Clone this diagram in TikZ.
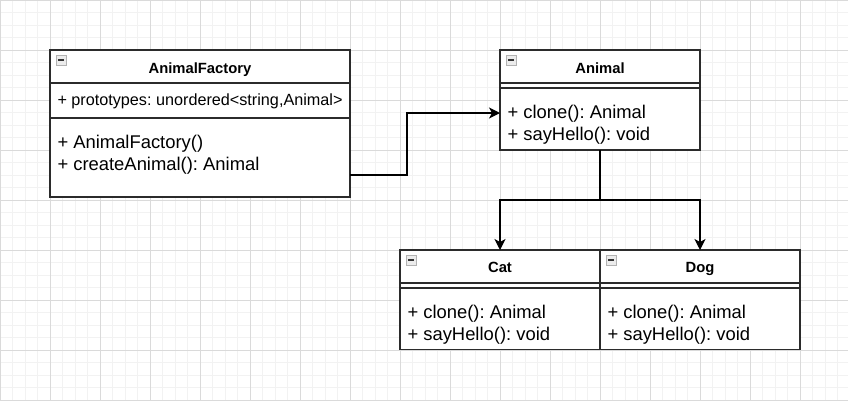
\documentclass[tikz,border=0pt]{standalone}
\usepackage{fontspec}
\setmainfont{Liberation Sans}
\usetikzlibrary{arrows.meta,positioning}
\definecolor{gridminor}{HTML}{F2F2F2}
\definecolor{gridmajor}{HTML}{DADADA}
\definecolor{boxline}{HTML}{2B2B2B}
\frenchspacing

\begin{document}
\begin{tikzpicture}[x=1pt,y=-1pt,>={Stealth[length=11pt,width=11pt,inset=3pt]},
		inner sep=0pt, outer sep=0pt]
		\tikzstyle{minorline}=[draw=gridminor,line width=0.8pt]
		\tikzstyle{majorline}=[draw=gridmajor,line width=0.8pt]
		\tikzstyle{classpart}=[draw=boxline,line width=1.3pt,fill=white,minimum width=200pt]
		\tikzstyle{classhead}=[classpart,minimum height=33pt]
		\tikzstyle{classname}=[font=\fontsize{14.8}{18}\selectfont\bfseries,anchor=base]
		\tikzstyle{field}=[font=\fontsize{16.2}{19}\selectfont,anchor=base west]
		\tikzstyle{member}=[font=\fontsize{18.4}{22}\selectfont,anchor=base west]
		\tikzstyle{toggle}=[draw=gray!60,fill=gray!15,line width=0.8pt,minimum size=10pt,anchor=north west,
			path picture={\draw[black!80,line width=1.5pt] ([xshift=2pt]path picture bounding box.west)
				-- ([xshift=-2pt]path picture bounding box.east);}]
		\tikzstyle{link}=[->,draw=black,line width=1.3pt]

		\useasboundingbox (0,0) rectangle (848,400);
		\fill[white] (0,0) rectangle (848,400);
		\foreach \i in {0,...,67} \draw[minorline] (12.5*\i,0) -- (12.5*\i,400);
		\foreach \j in {0,...,32} \draw[minorline] (0,12.5*\j) -- (848,12.5*\j);
		\foreach \i in {0,...,16} \draw[majorline] (50*\i,0) -- (50*\i,400);
		\foreach \j in {0,...,8} \draw[majorline] (0,50*\j) -- (848,50*\j);

		\node[classhead,minimum width=300pt,anchor=north west] (fh) at (50,50) {};
		\node[classpart,minimum width=300pt,minimum height=35pt,below=0pt of fh] (fa) {};
		\node[classpart,minimum width=300pt,minimum height=79pt,below=0pt of fa] (fm) {};
		\node[toggle] (fx) at ([xshift=6pt,yshift=-5pt]fh.north west) {};
		\node[classname] (ft) at ([yshift=-23pt]fh.north) {AnimalFactory};
		\node[field] (fp) at ([xshift=7.5pt,yshift=-22.5pt]fa.north west) {+ prototypes: unordered<string,Animal>};
		\node[member] (fm1) at ([xshift=7.5pt,yshift=-30pt]fm.north west) {+ AnimalFactory()};
		\node[member] (fm2) at ([xshift=7.5pt,yshift=-52.7pt]fm.north west) {+ createAnimal(): Animal};

		\node[classhead,anchor=north west] (ah) at (500,50) {};
		\node[classpart,minimum height=5pt,below=0pt of ah] (aa) {};
		\node[classpart,minimum height=62pt,below=0pt of aa] (am) {};
		\node[toggle] (ax) at ([xshift=6pt,yshift=-5pt]ah.north west) {};
		\node[classname] (at) at ([yshift=-23pt]ah.north) {Animal};
		\node[member] (am1) at ([xshift=7.5pt,yshift=-30pt]am.north west) {+ clone(): Animal};
		\node[member] (am2) at ([xshift=7.5pt,yshift=-52.7pt]am.north west) {+ sayHello(): void};

		\node[classhead,anchor=north west] (ch) at (400,250) {};
		\node[classpart,minimum height=5pt,below=0pt of ch] (ca) {};
		\node[classpart,minimum height=61.5pt,below=0pt of ca] (cm) {};
		\node[toggle] (cx) at ([xshift=6pt,yshift=-5pt]ch.north west) {};
		\node[classname] (ct) at ([yshift=-22.7pt]ch.north) {Cat};
		\node[member] (cm1) at ([xshift=7.5pt,yshift=-30pt]cm.north west) {+ clone(): Animal};
		\node[member] (cm2) at ([xshift=7.5pt,yshift=-52.7pt]cm.north west) {+ sayHello(): void};

		\node[classhead,right=0pt of ch] (dh) {};
		\node[classpart,minimum height=5pt,below=0pt of dh] (da) {};
		\node[classpart,minimum height=61.5pt,below=0pt of da] (dm) {};
		\node[toggle] (dx) at ([xshift=6pt,yshift=-5pt]dh.north west) {};
		\node[classname] (dt) at ([yshift=-22.7pt]dh.north) {Dog};
		\node[member] (dm1) at ([xshift=7.5pt,yshift=-30pt]dm.north west) {+ clone(): Animal};
		\node[member] (dm2) at ([xshift=7.5pt,yshift=-52.7pt]dm.north west) {+ sayHello(): void};

		\draw[link] ([yshift=-57pt]fm.north east) -- ++(57,0) |- ([yshift=-25pt]am.north west);
		\draw[link] (am.south) -- ++(0,50) -| (ch.north);
		\draw[link] (am.south) -- ++(0,50) -| (dh.north);
\end{tikzpicture}
\end{document}
